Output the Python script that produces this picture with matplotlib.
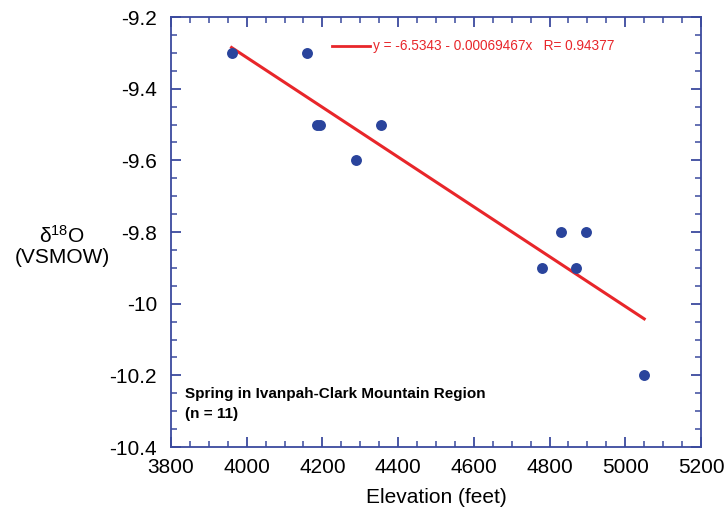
import matplotlib
matplotlib.use('Agg')
import matplotlib.pyplot as plt
from matplotlib.ticker import MultipleLocator
import numpy as np

# 海拔 (feet) 与 δ18O
elevation = [3960, 4160, 4185, 4193, 4290, 4355, 4780, 4830, 4870, 4895, 5050]
d18o = [-9.3, -9.3, -9.5, -9.5, -9.6, -9.5, -9.9, -9.8, -9.9, -9.8, -10.2]

# 回归系数
intercept = -6.5343
slope = -0.00069467
r_value = 0.94377

plt.rcParams['font.family'] = ['Liberation Sans', 'DejaVu Sans']

axis_blue = '#3b4a9e'
dot_blue = '#2a449c'
line_red = '#e8262a'

fig = plt.figure(figsize=(7.25, 5.12), dpi=100)
ax = fig.add_axes([171 / 725, 1 - 447 / 512, 530 / 725, 430 / 512])

ax.scatter(elevation, d18o, s=62, color=dot_blue, zorder=3, linewidths=0)

xs = np.array([min(elevation), max(elevation)])
ax.plot(xs, intercept + slope * xs, color=line_red, linewidth=2.2, zorder=2)

ax.set_xlim(3800, 5200)
ax.set_ylim(-10.4, -9.2)
ax.xaxis.set_major_locator(MultipleLocator(200))
ax.xaxis.set_minor_locator(MultipleLocator(50))
ax.yaxis.set_minor_locator(MultipleLocator(0.05))
ax.set_yticks(np.arange(-10.4, -9.19, 0.2))
ax.set_yticklabels(['-10.4', '-10.2', '-10', '-9.8', '-9.6', '-9.4', '-9.2'])

for s in ax.spines.values():
    s.set_color(axis_blue)
    s.set_linewidth(1.3)
ax.tick_params(which='both', direction='in', top=True, right=True,
               color=axis_blue, labelsize=15)
ax.tick_params(axis='y', pad=10)
ax.tick_params(axis='x', pad=8)
ax.tick_params(which='major', length=7, width=1.3)
ax.tick_params(which='minor', length=4, width=1.1)

ax.set_xlabel('Elevation (feet)', fontsize=15, labelpad=8)
fig.text(62 / 725, 1 - 246 / 512, '$\\mathregular{\\delta^{18}}$O\n(VSMOW)',
         fontsize=15, ha='center', va='center', linespacing=1.05)

# 图例
ax.plot([4225, 4325], [-9.28, -9.28], color=line_red, linewidth=2)
ax.text(4333, -9.28, 'y = -6.5343 - 0.00069467x   R= %.5f' % r_value,
        color=line_red, fontsize=9.8, va='center', ha='left')

ax.text(3838, -10.28, 'Spring in Ivanpah-Clark Mountain Region\n(n = 11)',
        fontsize=11, fontweight='bold', va='center', ha='left', linespacing=1.5)

plt.savefig('out.png', dpi=100)
